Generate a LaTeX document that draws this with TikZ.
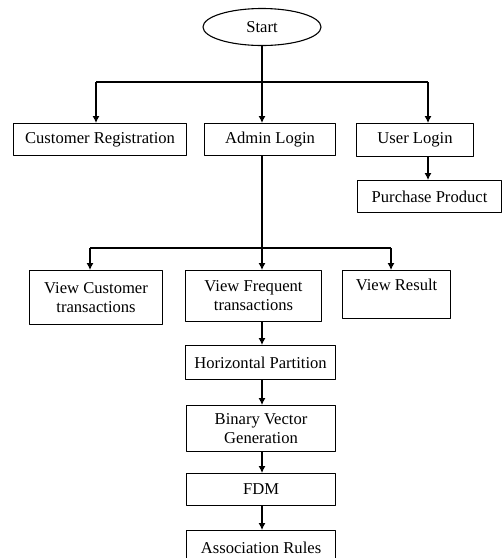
\documentclass[tikz,border=0pt]{standalone}
\usepackage{fontspec}
\setmainfont{Liberation Serif}
\usetikzlibrary{shapes.geometric,arrows.meta}
\begin{document}
\begin{tikzpicture}[>={Latex[length=7pt,width=7pt]},line join=bevel,x=1pt,y=-1pt,line width=1.1pt,
  font=\fontsize{16.6}{19}\selectfont,
  box/.style={draw,anchor=north west,inner sep=2pt,align=center}]
%%
  \useasboundingbox (0,0) rectangle (502,558);
  \node (node_0) at (262,27) [draw,ellipse,minimum width=118pt,minimum height=37pt,inner sep=0pt] {Start};
  \node (node_1) at (13,123) [box,minimum width=173pt,minimum height=32pt] {Customer Registration};
  \node (node_2) at (204,123) [box,minimum width=131pt,minimum height=32pt] {Admin Login};
  \node (node_3) at (356,123) [box,minimum width=117pt,minimum height=33pt] {User Login};
  \node (node_4) at (357,180) [box,minimum width=144pt,minimum height=32pt] {Purchase Product};
  \node (node_5) at (29,270) [box,minimum width=133pt,minimum height=54pt] {View Customer\\transactions};
  \node (node_6) at (185,270) [box,minimum width=136pt,minimum height=51pt] {View Frequent\\transactions};
  \node (node_7) at (342,270) [box,minimum width=108pt,minimum height=48pt,inner ysep=8pt,text height=11pt,text depth=20pt] {View Result};
  \node (node_8) at (185,345) [box,minimum width=150pt,minimum height=34pt] {Horizontal Partition};
  \node (node_9) at (186,405) [box,minimum width=149pt,minimum height=46pt] {Binary Vector\\Generation};
  \node (node_10) at (186,473) [box,minimum width=149pt,minimum height=32pt] {FDM};
  \node (node_11) at (186,530) [box,minimum width=149pt,minimum height=34pt] {Association Rules};

  \coordinate (bus_0l) at (96,82);
  \coordinate (bus_0r) at (428,82);
  \coordinate (bus_1l) at (90,248);
  \coordinate (bus_1r) at (391,248);

  \draw [black] (bus_0l) -- (bus_0r);
  \draw [black,->] (node_0) -- (node_0 |- node_2.north);
  \draw [black,->] (bus_0l) -- (bus_0l |- node_1.north);
  \draw [black,->] (bus_0r) -- (bus_0r |- node_3.north);
  \draw [black,->] (bus_0r |- node_3.south) -- (bus_0r |- node_4.north);
  \draw [black] (bus_1l) -- (bus_1r);
  \draw [black,->] (node_0 |- node_2.south) -- (node_0 |- node_6.north);
  \draw [black,->] (bus_1l) -- (bus_1l |- node_5.north);
  \draw [black,->] (bus_1r) -- (bus_1r |- node_7.north);
  \draw [black,->] (node_0 |- node_6.south) -- (node_0 |- node_8.north);
  \draw [black,->] (node_0 |- node_8.south) -- (node_0 |- node_9.north);
  \draw [black,->] (node_0 |- node_9.south) -- (node_0 |- node_10.north);
  \draw [black,->] (node_0 |- node_10.south) -- (node_0 |- node_11.north);
%
\end{tikzpicture}
\end{document}
